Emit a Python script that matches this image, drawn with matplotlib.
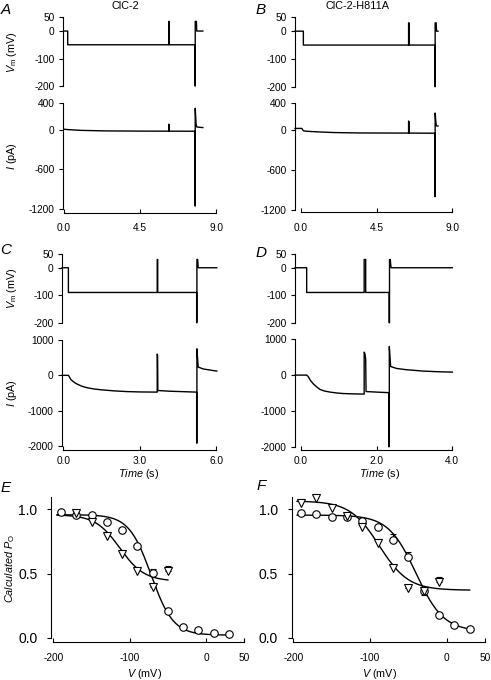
import matplotlib
matplotlib.use('Agg')
import matplotlib.pyplot as plt
import numpy as np

plt.rcParams['font.family'] = ['Liberation Sans', 'DejaVu Sans']
plt.rcParams['mathtext.fontset'] = 'custom'
plt.rcParams['mathtext.rm'] = 'Liberation Sans'
plt.rcParams['mathtext.it'] = 'Liberation Sans:italic'
plt.rcParams['mathtext.bf'] = 'Liberation Sans:bold'
plt.rcParams['axes.linewidth'] = 0.8

W, H = 491, 680
fig = plt.figure(figsize=(W / 100, H / 100), dpi=100)

# ---------------- data ----------------
titles = ["ClC-2", "ClC-2-H811A"]

vm_ticks = [50, 0, -100, -200]
vm_ticklabels = ["50", "0", "-100", "-200"]
iAB_ticks = [400, 0, -600, -1200]
iAB_ticklabels = ["400", "0", "-600", "-1200"]
iCD_ticks = [1000, 0, -1000, -2000]
iCD_ticklabels = ["1000", "0", "-1000", "-2000"]

xAB_ticks = [0.0, 4.5, 9.0]
xAB_ticklabels = ["0.0", "4.5", "9.0"]
xC_ticks = [0.0, 3.0, 6.0]
xC_ticklabels = ["0.0", "3.0", "6.0"]
xD_ticks = [0.0, 2.0, 4.0]
xD_ticklabels = ["0.0", "2.0", "4.0"]

# Panel A (time s, mV / pA)
A_vm_t = [0, 0.22, 0.22, 6.2, 6.2, 6.23, 6.23, 7.76, 7.76, 7.77, 7.77, 7.84, 7.86, 8.22]
A_vm_v = [0, 0, -50, -50, 35, 35, -50, -50, -200, -200, 35, 35, 0, 0]
A_i_t = [0, 0.22, 1.0, 2.5, 4.5, 6.2, 6.2, 6.23, 6.23, 7.76, 7.76, 7.77, 7.77, 7.82, 7.86, 8.0, 8.22]
A_i_v = [5, 0, -12, -20, -23, -24, 80, 65, -24, -25, -1150, -1150, 320, 80, 40, 35, 30]

# Panel B
B_vm_t = [-0.36, 0.14, 0.14, 6.4, 6.4, 6.43, 6.43, 7.97, 7.97, 7.98, 7.98, 8.04, 8.06, 8.15]
B_vm_v = [0, 0, -50, -50, 30, 30, -50, -50, -200, -200, 30, 30, 0, 0]
B_i_t = [-0.36, 0.05, 0.14, 0.3, 1.0, 2.0, 3.5, 6.4, 6.4, 6.43, 6.43, 7.97, 7.97, 7.98, 7.98, 8.02, 8.05, 8.15]
B_i_v = [20, 20, -15, -22, -32, -42, -48, -50, 130, 110, -50, -52, -1000, -1000, 250, 120, 60, 55]

# Panel C
C_vm_t = [-0.05, 0.2, 0.2, 3.69, 3.69, 3.71, 3.71, 5.24, 5.24, 5.25, 5.25, 5.28, 5.30, 6.03]
C_vm_v = [0, 0, -90, -90, 30, 30, -90, -90, -200, -200, 30, 30, 0, 0]
C_i_t = [-0.05, 0.2, 0.25, 0.3, 0.38, 0.45, 0.55, 0.7, 0.85, 1.0, 1.25, 1.5, 2.0, 2.5, 3.0, 3.69,
         3.69, 3.705, 3.715, 4.2, 5.24, 5.24, 5.25, 5.25, 5.30, 5.5, 5.76, 6.03]
C_i_v = [0, 0, -60, -120, -170, -210, -250, -300, -335, -360, -390, -410, -440, -460, -470, -475,
         600, 560, -430, -450, -475, -1920, -1920, 750, 235, 180, 150, 120]

# Panel D
D_vm_t = [-0.16, 0.15, 0.15, 1.67, 1.67, 1.71, 1.71, 2.33, 2.33, 2.34, 2.34, 2.36, 2.38, 4.0]
D_vm_v = [0, 0, -90, -90, 30, 30, -90, -90, -200, -200, 30, 30, 0, 0]
D_i_t = [-0.16, 0.15, 0.19, 0.25, 0.33, 0.42, 0.5, 0.62, 0.77, 0.95, 1.12, 1.4, 1.67,
         1.67, 1.69, 1.71, 1.72, 2.0, 2.32, 2.32, 2.335, 2.335, 2.35, 2.37, 2.53, 2.79, 3.23, 3.67, 4.0]
D_i_v = [0, 0, -40, -150, -250, -335, -400, -445, -475, -500, -515, -525, -530,
         640, 600, 450, -460, -475, -490, -2000, -2000, 800, 550, 240, 185, 150, 112, 92, 84]

# Panels E/F: calculated open probability vs voltage
V_circ = [-190, -170, -150, -130, -110, -90, -70, -50, -30, -10, 10, 30]
E_circ = [0.98, 0.956, 0.953, 0.90, 0.84, 0.714, 0.506, 0.208, 0.086, 0.057, 0.034, 0.026]
E_circ_err = [0, 0, 0, 0, 0, 0, 0.03, 0, 0, 0, 0, 0]
E_tri_V = [-170, -150, -130, -110, -90, -70, -50]
E_tri = [0.968, 0.898, 0.794, 0.652, 0.519, 0.392, 0.519]
E_tri_err = [0.02, 0, 0, 0, 0, 0.03, 0.04]

F_circ = [0.969, 0.961, 0.943, 0.943, 0.911, 0.86, 0.761, 0.631, 0.364, 0.177, 0.099, 0.068]
F_circ_err = [0, 0, 0, 0, 0, 0, 0.045, 0.04, -0.03, 0, 0, 0]
F_tri_V = [-190, -170, -150, -130, -110, -90, -70, -50, -30, -10]
F_tri = [1.047, 1.085, 1.008, 0.948, 0.865, 0.735, 0.54, 0.384, 0.364, 0.431]
F_tri_err = [0, 0, 0, 0.02, 0, 0, 0, 0.02, 0, 0.04]

# Boltzmann fit parameters (Pmax, Pmin, Vhalf, slope, Vstart, Vend)
E_circ_fit = (0.958, 0.02, -72, 14.5, -195, 30)
E_tri_fit = (0.958, 0.44, -113, 16, -195, -50)
F_circ_fit = (0.955, 0.05, -40, 18, -195, 30)
F_tri_fit = (1.065, 0.37, -88, 19, -195, 30)

EF_xticks = [-200, -100, 0, 50]
EF_xticklabels = ["-200", "-100", "0", "50"]
EF_yticks = [0.0, 0.5, 1.0]
EF_yticklabels = ["0.0", "0.5", "1.0"]

# ---------------- helpers ----------------
TFS = 7.3
LFS = 7.8


def px_axes(left, top, right, bottom):
    return fig.add_axes([left / W, 1 - bottom / H, (right - left) / W, (bottom - top) / H])


def style_y(ax, ticks, labels, pad=3):
    ax.set_yticks(ticks)
    ax.set_yticklabels(labels, fontsize=TFS)
    ax.tick_params(axis='y', direction='out', length=3, width=0.8, pad=pad)
    ax.spines['top'].set_visible(False)
    ax.spines['right'].set_visible(False)


def trace_panel(x_left, x0_px, x_end_px, xmax, vm_top, vm_bot, i_top, i_bot,
                t_vm, v_vm, t_i, v_i, i_ticks, i_labels, xticks, xlabels,
                out_px, xpad):
    span = (x_end_px - x0_px) / xmax
    xmin = -(x0_px - x_left) / span
    axv = px_axes(x_left, vm_top, x_end_px, vm_bot)
    axv.plot(t_vm, v_vm, color='k', lw=1.0, clip_on=False)
    axv.set_xlim(xmin, xmax)
    axv.set_ylim(-200, 50)
    axv.spines['bottom'].set_visible(False)
    axv.set_xticks([])
    style_y(axv, vm_ticks, vm_ticklabels)

    axi = px_axes(x_left, i_top, x_end_px, i_bot)
    axi.plot(t_i, v_i, color='k', lw=1.0, clip_on=False)
    axi.set_xlim(xmin, xmax)
    axi.set_ylim(i_ticks[-1], i_ticks[0])
    style_y(axi, i_ticks, i_labels)
    axi.spines['bottom'].set_position(('outward', out_px * 0.72))
    axi.spines['bottom'].set_bounds(0, xmax)
    axi.set_xticks(xticks)
    axi.set_xticklabels(xlabels, fontsize=TFS)
    axi.tick_params(axis='x', direction='in', length=3, width=0.8, pad=xpad)
    return axv, axi


def boltz(params):
    pmax, pmin, vh, k, v0, v1 = params
    v = np.linspace(v0, v1, 300)
    return v, pmin + (pmax - pmin) / (1 + np.exp((v - vh) / k))


def po_panel(left, right, V, circ, circ_err, tV, tri, tri_err, cfit, tfit, lout):
    ax = px_axes(left, 496.5, right, 637.7)
    ax.set_xlim(-200, 50)
    ax.set_ylim(0, 1.1)
    v, p = boltz(cfit)
    ax.plot(v, p, color='k', lw=1.0, zorder=2)
    v, p = boltz(tfit)
    ax.plot(v, p, color='k', lw=1.0, zorder=2)
    # error bars (one-sided)
    for x, y, e in zip(V, circ, circ_err):
        if e != 0:
            ax.errorbar([x], [y], yerr=[[0], [e]] if e > 0 else [[-e], [0]],
                        fmt='none', ecolor='k', elinewidth=0.8, capsize=2, capthick=0.8, zorder=2)
    for x, y, e in zip(tV, tri, tri_err):
        if e != 0:
            ax.errorbar([x], [y], yerr=[[0], [e]], fmt='none', ecolor='k',
                        elinewidth=0.8, capsize=2, capthick=0.8, zorder=2)
    ax.plot(V, circ, 'o', ms=5.4, mfc='white', mec='k', mew=0.8, zorder=3, clip_on=False)
    ax.plot(tV, tri, 'v', ms=5.2, mfc='white', mec='k', mew=0.8, zorder=4, clip_on=False)
    style_y(ax, EF_yticks, EF_yticklabels, pad=7)
    ax.spines['left'].set_position(('outward', lout * 0.72))
    ax.spines['bottom'].set_position(('outward', 4 * 0.72))
    ax.set_xticks(EF_xticks)
    ax.set_xticklabels(EF_xticklabels, fontsize=TFS)
    ax.tick_params(axis='x', direction='in', length=3, width=0.8, pad=8)
    return ax


# ---------------- panels ----------------
trace_panel(63, 64, 216, 9.0, 17.3, 86, 103, 209.3, A_vm_t, A_vm_v, A_i_t, A_i_v,
            iAB_ticks, iAB_ticklabels, xAB_ticks, xAB_ticklabels, 4, 7)
trace_panel(295, 301, 452.3, 9.0, 17.3, 86.7, 103, 210, B_vm_t, B_vm_v, B_i_t, B_i_v,
            iAB_ticks, iAB_ticklabels, xAB_ticks, xAB_ticklabels, 1.5, 8.5)
trace_panel(62, 63.3, 216, 6.0, 254, 322.7, 340, 446, C_vm_t, C_vm_v, C_i_t, C_i_v,
            iCD_ticks, iCD_ticklabels, xC_ticks, xC_ticklabels, 4, 4)
trace_panel(295, 301, 452.3, 4.0, 254, 322.7, 339.3, 446.7, D_vm_t, D_vm_v, D_i_t, D_i_v,
            iCD_ticks, iCD_ticklabels, xD_ticks, xD_ticklabels, 3.3, 4)

po_panel(53.3, 244.3, V_circ, E_circ, E_circ_err, E_tri_V, E_tri, E_tri_err, E_circ_fit, E_tri_fit, 2)
po_panel(293.3, 485, V_circ, F_circ, F_circ_err, F_tri_V, F_tri, F_tri_err, F_circ_fit, F_tri_fit, 1.6)


def ftext(x, y, s, **kw):
    fig.text(x / W, 1 - y / H, s, **kw)


# titles
ftext(125, 6, titles[0], fontsize=LFS, ha='center', va='center')
ftext(358, 6, titles[1], fontsize=LFS, ha='center', va='center')

# panel letters
for (x, y, s) in [(6, 10, 'A'), (261, 10, 'B'), (6, 250, 'C'), (261, 253, 'D'), (6, 488, 'E'), (261, 486, 'F')]:
    ftext(x, y, s, fontsize=11, fontstyle='italic', ha='center', va='center')

# axis labels
vm_lab = r'$\mathit{V}_{\mathrm{m}}$ (mV)'
i_lab = r'$\mathit{I}$ (pA)'
for (y, s) in [(52, vm_lab), (156, i_lab), (288, vm_lab), (393, i_lab)]:
    ftext(12, y, s, fontsize=LFS, rotation=90, ha='center', va='center')
ftext(10, 568, r'$\mathit{Calculated\ P}_{\mathrm{O}}$', fontsize=LFS, rotation=90, ha='center', va='center')

ftext(139, 474, r'$\mathit{Time}$ (s)', fontsize=LFS, ha='center', va='center')
ftext(380, 474, r'$\mathit{Time}$ (s)', fontsize=LFS, ha='center', va='center')
ftext(145, 674, r'$\mathit{V}$ (mV)', fontsize=LFS, ha='center', va='center')
ftext(380, 674, r'$\mathit{V}$ (mV)', fontsize=LFS, ha='center', va='center')

fig.savefig('out.png', dpi=100)
